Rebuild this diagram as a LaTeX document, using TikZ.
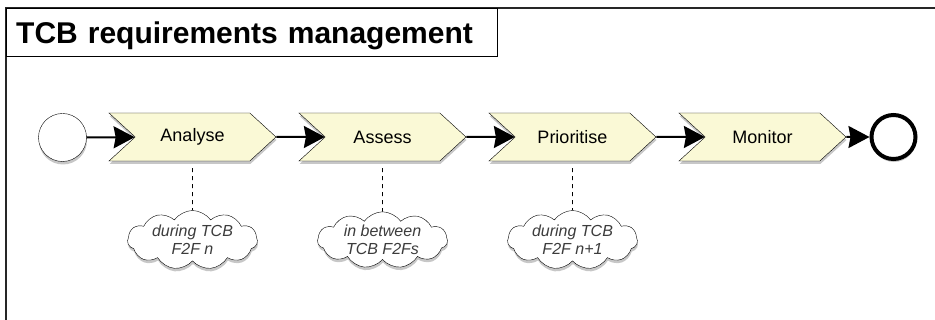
\documentclass[tikz,border=0pt]{standalone}
\usepackage{fontspec}
\setmainfont{Liberation Sans}
\usetikzlibrary{shapes.symbols}
\usetikzlibrary{arrows.meta}
\definecolor{stepfill}{RGB}{250,249,214}
\definecolor{notetext}{RGB}{60,60,60}

\tikzset{
  softshadow/.style={preaction={fill=black,opacity=0.22,transform canvas={xshift=0.5pt,yshift=-3pt}}},
  activity/.style={signal,signal to=east,signal from=west,signal pointer angle=85,
    draw,thin,fill=stepfill,minimum width=167pt,minimum height=48pt,inner sep=0pt,
    font=\fontsize{18}{20}\selectfont,softshadow},
  event/.style={circle,draw,fill=white,minimum size=48pt,inner sep=0pt,softshadow},
  note/.style={cloud,cloud puffs=11,cloud puff arc=110,aspect=2.6,draw,thin,fill=white,
    inner sep=0pt,minimum width=130pt,minimum height=52pt,align=center,
    font=\fontsize{16}{18}\selectfont\itshape,text=notetext,softshadow},
  flow/.style={line width=2pt,-{Stealth[length=21pt,width=22pt,inset=2pt]}},
  tieline/.style={semithick,dash pattern=on 4pt off 4pt,shorten <=7pt}
}

\begin{document}
\begin{tikzpicture}[x=1pt,y=1pt]
  \useasboundingbox (0,0) rectangle (935,-320);
  % frame and title
  \draw[line width=2pt,black!85] (6,-330) -- (6,-8) -- (945,-8);
  \node[draw,thin,anchor=north west,minimum width=491pt,minimum height=48pt,
    inner xsep=10pt,text width=471pt,align=left,text height=22pt,text depth=0pt,
    font=\fontsize{30}{34}\selectfont\bfseries] (title) at (6,-8) {TCB requirements management};

  % process
  \node[event] (start) at (62.5,-137.5) {};
  \node[activity] (analyse) at (192.5,-137) {Analyse};
  \node[activity] (assess) at (382.5,-137) {Assess};
  \node[activity] (prioritise) at (572.5,-137) {Prioritise};
  \node[activity] (monitor) at (762.5,-137) {Monitor};
  \node[event,line width=4pt,minimum size=44pt] (stop) at (893.5,-137) {};

  \draw[flow] (start) -- (analyse);
  \draw[flow] (analyse) -- (assess);
  \draw[flow] (assess) -- (prioritise);
  \draw[flow] (prioritise) -- (monitor);
  \draw[flow] (monitor) -- (stop);

  % when it happens
  \node[note] (whenA) at (192.5,-240) {during TCB\\F2F n};
  \node[note] (whenB) at (382.5,-240) {in between\\TCB F2Fs};
  \node[note] (whenC) at (572.5,-240) {during TCB\\F2F n+1};

  \draw[tieline] (analyse) -- (whenA);
  \draw[tieline] (assess) -- (whenB);
  \draw[tieline] (prioritise) -- (whenC);
\end{tikzpicture}
\end{document}
